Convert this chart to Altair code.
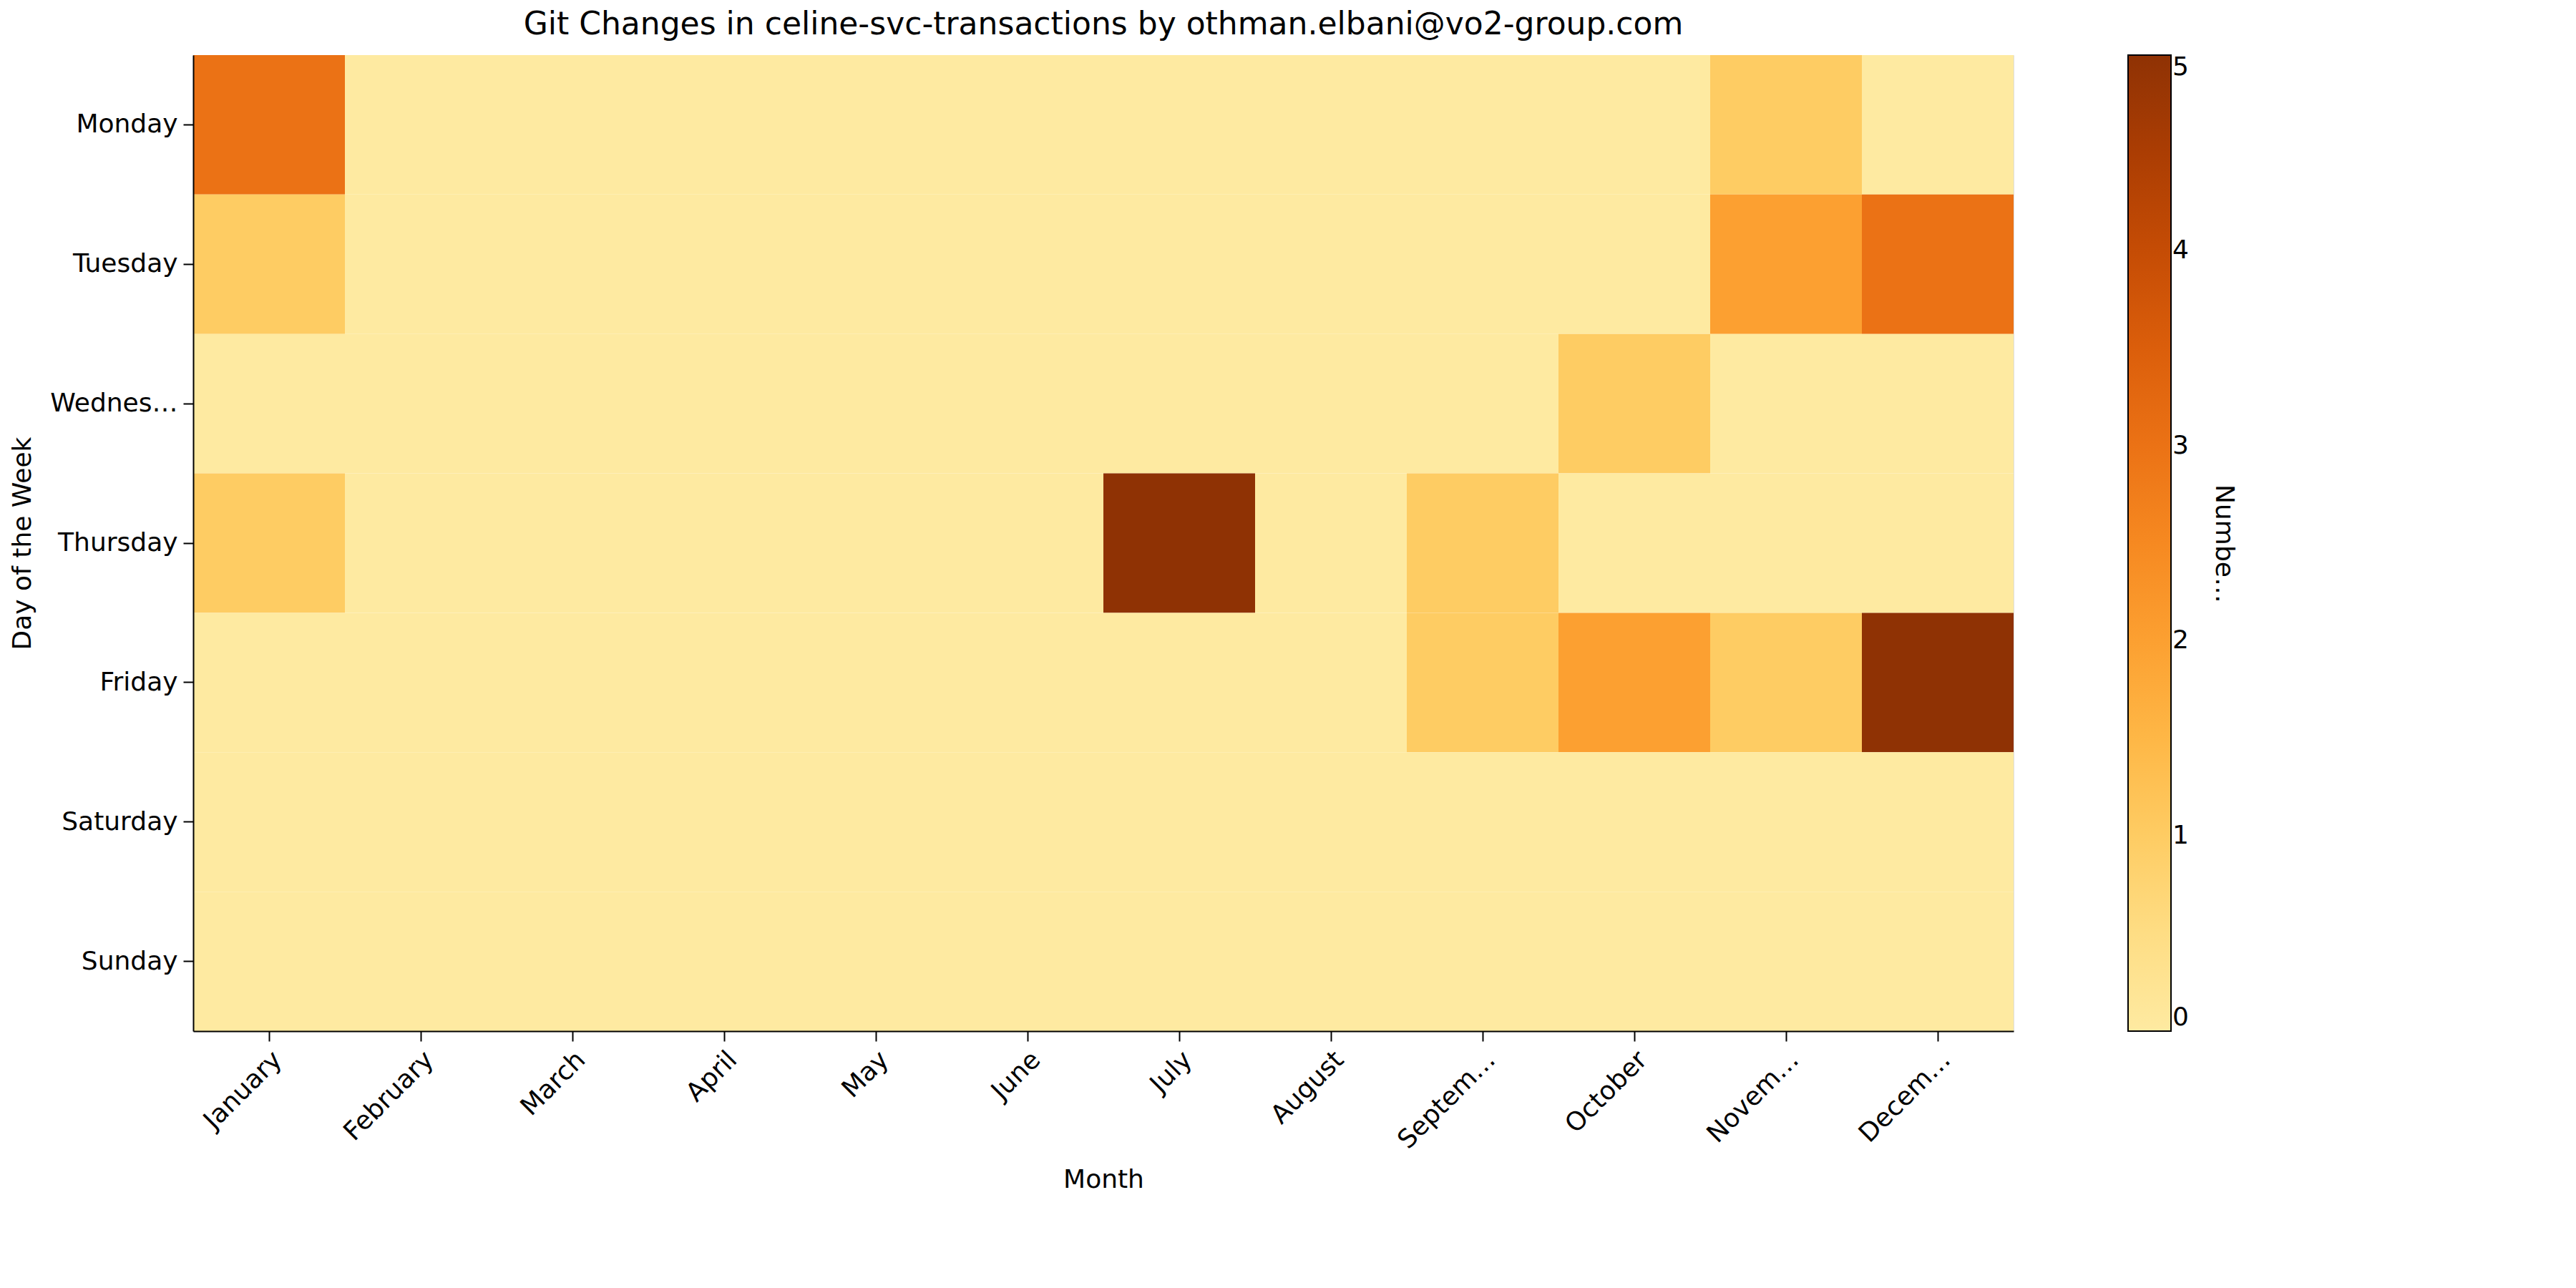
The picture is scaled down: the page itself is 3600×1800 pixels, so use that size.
import pandas as pd
import altair as alt

months = ["January", "February", "March", "April", "May", "June", "July",
          "August", "September", "October", "November", "December"]
days = ["Monday", "Tuesday", "Wednesday", "Thursday", "Friday", "Saturday", "Sunday"]

# rows = days, columns = months
changes = [
    [3, 0, 0, 0, 0, 0, 0, 0, 0, 0, 1, 0],
    [1, 0, 0, 0, 0, 0, 0, 0, 0, 0, 2, 3],
    [0, 0, 0, 0, 0, 0, 0, 0, 0, 1, 0, 0],
    [1, 0, 0, 0, 0, 0, 5, 0, 1, 0, 0, 0],
    [0, 0, 0, 0, 0, 0, 0, 0, 1, 2, 1, 5],
    [0, 0, 0, 0, 0, 0, 0, 0, 0, 0, 0, 0],
    [0, 0, 0, 0, 0, 0, 0, 0, 0, 0, 0, 0],
]

rows = []
for i, d in enumerate(days):
    for j, m in enumerate(months):
        rows.append({"Day": d, "Month": m, "Changes": changes[i][j]})
df = pd.DataFrame(rows)

axis_style = dict(labelFontSize=36, titleFontSize=36, tickSize=14, tickWidth=2,
                  domainWidth=2, domainColor="black", tickColor="black",
                  labelColor="black", titleFontWeight="normal",
                  titlePadding=20, labelPadding=8)

chart = alt.Chart(df).mark_rect().encode(
    x=alt.X("Month:O", sort=months, title="Month",
            axis=alt.Axis(labelAngle=-45, **axis_style)),
    y=alt.Y("Day:O", sort=days, title="Day of the Week",
            axis=alt.Axis(**axis_style)),
    color=alt.Color("Changes:Q", scale=alt.Scale(scheme="yelloworangebrown", domain=[0, 5]),
                    legend=alt.Legend(title="Number of Changes", orient="right",
                                      gradientLength=1364, gradientThickness=60,
                                      titleOrient="right",
                                      titleFontSize=36, titleFontWeight="normal",
                                      labelFontSize=36, tickCount=5, offset=160,
                                      gradientStrokeColor="black", gradientStrokeWidth=2,
                                      titleAnchor="middle", titlePadding=30)),
).properties(
    width=2544, height=1364,
    title=alt.Title("Git Changes in celine-svc-transactions by othman.elbani@vo2-group.com",
                    fontSize=44, fontWeight="normal", offset=20),
).configure_view(stroke="black", strokeWidth=2).configure(font="DejaVu Sans")

chart.save("out.html", embed_options={"renderer": "svg", "actions": False})
